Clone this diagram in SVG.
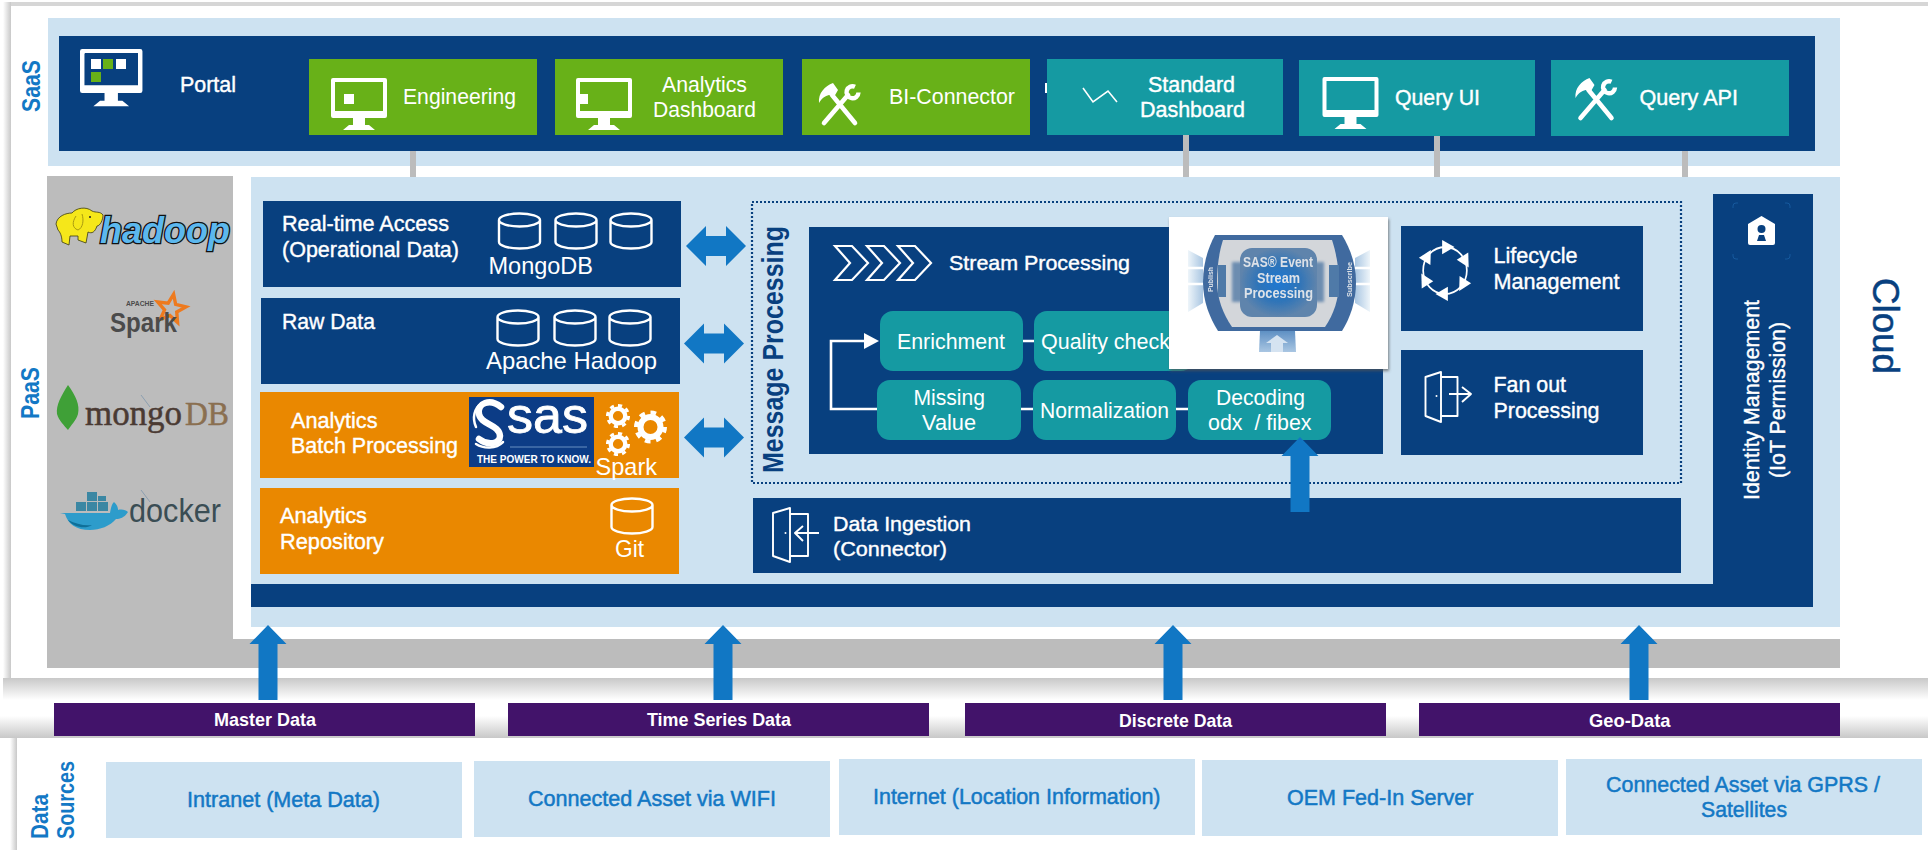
<svg xmlns="http://www.w3.org/2000/svg" width="1928" height="850" viewBox="0 0 1928 850">
<style>
text{font-family:"Liberation Sans",Arial,sans-serif;font-size:22px}
.w{fill:#fff}
.wb{fill:#fff;stroke:#fff;stroke-width:.4px}
.lb{fill:#cde2f1}
.nv{fill:#08407f}
.gr{fill:#68b118}
.tl{fill:#159aa2}
.or{fill:#ea8800}
.pu{fill:#42136a}
.gy{fill:#bcbcbc}
.ab{fill:#1177c4}
.blt{fill:#1378c5;font-weight:700}
.src{fill:#1378c5;font-size:21.500px;stroke:#1378c5;stroke-width:.5px}
.dat{fill:#fff;font-size:19px;font-weight:700}
.big{font-size:24px;fill:#fff}
.ln{fill:none;stroke:#fff;stroke-width:2.6px}
.ic{fill:none;stroke:#fff;stroke-width:1.9px;stroke-linejoin:round}
.im{fill:#dde2e8;font-weight:700;font-size:14.500px}
</style>
<defs>
<linearGradient id="sdD" x1="0" y1="0" x2="0" y2="1"><stop offset="0" stop-color="#c8c8c8"/><stop offset="1" stop-color="#fff"/></linearGradient>
<linearGradient id="sdU" x1="0" y1="1" x2="0" y2="0"><stop offset="0" stop-color="#c8c8c8"/><stop offset="1" stop-color="#fff"/></linearGradient>
<linearGradient id="sdR" x1="1" y1="0" x2="0" y2="0"><stop offset="0" stop-color="#c8c8c8"/><stop offset="1" stop-color="#fff"/></linearGradient>
<radialGradient id="core"><stop offset="0" stop-color="#1f78d2"/><stop offset=".55" stop-color="#2f74b8"/><stop offset="1" stop-color="#5f84ac"/></radialGradient>
<linearGradient id="fanL" x1="1" y1="0" x2="0" y2="0"><stop offset="0" stop-color="#a9c6e2"/><stop offset="1" stop-color="#eef5fa"/></linearGradient>
<linearGradient id="fanR" x1="0" y1="0" x2="1" y2="0"><stop offset="0" stop-color="#a9c6e2"/><stop offset="1" stop-color="#eef5fa"/></linearGradient>
<linearGradient id="fanB" x1="0" y1="1" x2="0" y2="0"><stop offset="0" stop-color="#a9c6e2"/><stop offset="1" stop-color="#5f90c4"/></linearGradient>
<filter id="cardS" x="-10%" y="-10%" width="120%" height="120%"><feDropShadow dx="1" dy="2" stdDeviation="1.5" flood-color="#555" flood-opacity=".7"/></filter>
<filter id="soft" x="-5%" y="-5%" width="110%" height="110%"><feGaussianBlur stdDeviation=".55"/></filter>
<filter id="softer" x="-10%" y="-10%" width="120%" height="120%"><feGaussianBlur stdDeviation="1.6"/></filter>
<path id="monitor" fill="#fff" fill-rule="evenodd" d="M2 0H54Q56 0 56 2V38Q56 40 54 40H2Q0 40 0 38V2Q0 0 2 0ZM4 4V33H52V4ZM22 40H34V47H38L44 52H12L18 47H22Z"/>
<g id="tools">
<path d="M13 12L36 40M29 12L5 40" fill="none" stroke="#fff" stroke-width="4.6" stroke-linecap="round"/>
<path d="M0 20C-1 10 6 3 14 0L19 7L15 14L10 12C6 13 3 15 0 20Z" fill="#fff"/>
<path d="M36 3.800A6 6 0 1 0 39.500 9.500" fill="none" stroke="#fff" stroke-width="4.400"/>
</g>
<path id="cyl" fill="none" stroke="#fff" stroke-width="2.400" d="M1.500 8A20.500 6.500 0 0 1 42.500 8V30A20.500 6.500 0 0 1 1.500 30ZM1.500 8A20.500 6.500 0 0 0 42.500 8"/>
<g id="gear"><circle r="10" fill="none" stroke="#fff" stroke-width="6"/><circle r="14.500" fill="none" stroke="#fff" stroke-width="4" pathLength="80" stroke-dasharray="5 5"/></g>
<polygon id="dbl" class="ab" points="-30,0 -10,-20 -10,-10 10,-10 10,-20 30,0 10,20 10,10 -10,10 -10,20"/>
<polygon id="up" class="ab" points="0,0 18.500,19 9.500,19 9.500,75 -9.500,75 -9.500,19 -18.500,19"/>
<polygon id="tri" fill="#fff" points="10,-23 -3,-30 -3,-16"/>
<polygon id="chev" points="0,0 17,0 33,17 17,34 0,34 15,17" fill="none" stroke="#fff" stroke-width="2.2"/>
</defs>

<g id="page">
<rect x="0" y="0" width="1928" height="850" fill="#fff"/>
<rect x="3" y="2" width="1925" height="4" fill="#d6d6d6"/>
<rect x="3" y="2" width="8" height="676" fill="url(#sdR)"/>
<rect x="3" y="678" width="1925" height="22" fill="url(#sdD)"/>
<rect x="0" y="716" width="1928" height="22" fill="url(#sdU)"/>
<rect x="10" y="738" width="7" height="112" fill="url(#sdR)"/>
</g>

<g id="saas-layer">
<rect class="lb" x="48" y="18" width="1792" height="148"/>
<text class="blt" transform="translate(39.500,112) rotate(-90)" style="font-size:25px" textLength="52" lengthAdjust="spacingAndGlyphs">SaaS</text>
</g>
<g id="portal">
<rect class="nv" x="59" y="36" width="1756" height="115"/>
<use href="#monitor" transform="translate(80,49) scale(1.115,1.1)"/>
<rect class="nv" x="85" y="53" width="53" height="32"/>
<rect fill="#fff" x="91" y="59" width="10" height="10"/><rect class="gr" x="103" y="59" width="10" height="10"/><rect fill="#fff" x="116" y="59" width="10" height="10"/><rect class="gr" x="91" y="72" width="10" height="10"/>
<text class="wb" x="180" y="92" textLength="56" lengthAdjust="spacingAndGlyphs">Portal</text>
</g>
<g id="engineering">
<rect class="gr" x="309" y="59" width="228" height="76"/>
<use href="#monitor" transform="translate(331,78)"/>
<rect fill="#fff" x="344" y="94" width="10" height="10"/>
<text class="w" x="403" y="104" textLength="113" lengthAdjust="spacingAndGlyphs">Engineering</text>
</g>
<g id="analytics-dashboard">
<rect class="gr" x="555" y="59" width="228" height="76"/>
<use href="#monitor" transform="translate(576,78)"/>
<rect fill="#fff" x="580" y="94" width="8" height="10"/>
<text class="w" x="662" y="92" textLength="85" lengthAdjust="spacingAndGlyphs">Analytics</text>
<text class="w" x="653" y="117" textLength="103" lengthAdjust="spacingAndGlyphs">Dashboard</text>
</g>
<g id="bi-connector">
<rect class="gr" x="802" y="59" width="228" height="76"/>
<use href="#tools" transform="translate(819,83)"/>
<text class="w" x="889" y="104" textLength="126" lengthAdjust="spacingAndGlyphs">BI-Connector</text>
</g>
<g id="standard-dashboard">
<rect x="1045" y="83" width="2" height="10" fill="#fff"/>
<rect class="tl" x="1047" y="59" width="236" height="76"/>
<polyline points="1083,88 1093,102 1108,91 1117,102" fill="none" stroke="#fff" stroke-width="1.6"/>
<text class="wb" x="1148" y="92" textLength="87" lengthAdjust="spacingAndGlyphs">Standard</text>
<text class="wb" x="1140" y="117" textLength="105" lengthAdjust="spacingAndGlyphs">Dashboard</text>
</g>
<g id="query-ui">
<rect class="tl" x="1299" y="60" width="236" height="76"/>
<use href="#monitor" transform="translate(1322.500,77)"/>
<text class="wb" x="1395" y="105" textLength="85" lengthAdjust="spacingAndGlyphs">Query UI</text>
</g>
<g id="query-api">
<rect class="tl" x="1551" y="60" width="238" height="76"/>
<use href="#tools" transform="translate(1575.500,78)"/>
<text class="wb" x="1639.500" y="105" textLength="98.500" lengthAdjust="spacingAndGlyphs">Query API</text>
</g>

<g id="paas-layer">
<rect class="gy" x="47" y="176" width="186" height="492"/>
<rect class="gy" x="233" y="639" width="1607" height="29"/>
<rect class="lb" x="251" y="177" width="1589" height="450"/>
<rect class="nv" x="251" y="584" width="1562" height="23"/>
<text class="blt" transform="translate(39,419) rotate(-90)" style="font-size:25px" textLength="52" lengthAdjust="spacingAndGlyphs">PaaS</text>
<text transform="translate(1873,278) rotate(90)" style="font-size:37px;fill:#08407f;stroke:#08407f;stroke-width:.5px" textLength="96" lengthAdjust="spacingAndGlyphs">Cloud</text>
</g>

<g id="logo-hadoop">
<path d="M56 224C57 216 66 213 72 213C76 208 86 206 92 211C96 213 100 211 103 215C103 220 100 226 97 226C95 232 92 234 88 232L86 243L78 240L78 236L70 236L69 245L62 242C62 236 60 232 58 230Z" fill="#f5e71a" stroke="#3a3a10" stroke-width=".8"/>
<path d="M76 216C72 222 72 228 78 230C83 228 84 220 82 214" fill="none" stroke="#a89a10" stroke-width="1"/>
<circle cx="90" cy="217" r="1" fill="#222"/>
<text x="100" y="243" style="font-size:36px;font-weight:700;font-style:italic;fill:#5cb8ee;stroke:#111;stroke-width:2.600px;paint-order:stroke" textLength="130" lengthAdjust="spacingAndGlyphs">hadoop</text>
</g>
<g id="logo-spark">
<polygon transform="translate(171,309) rotate(10)" fill="none" stroke="#ee7a1e" stroke-width="3.4" points="0,-15 3.800,-5.300 14.300,-4.600 6.200,2 8.800,12.100 0,6.500 -8.800,12.100 -6.200,2 -14.300,-4.600 -3.800,-5.300"/>
<text x="126" y="306" style="font-size:7px;fill:#4b4b4b;font-weight:700" textLength="28" lengthAdjust="spacingAndGlyphs">APACHE</text>
<text x="110" y="332" style="font-size:27px;fill:#4b4b4b;font-weight:700" textLength="67" lengthAdjust="spacingAndGlyphs">Spark</text>
</g>
<g id="logo-mongodb">
<path d="M68 385C76 396 80 405 78 414C76 421 71 425 68 430C64 425 59 421 57 414C56 405 61 396 68 385Z" fill="#3fa037"/>
<line x1="141" y1="395" x2="150" y2="407" stroke="#7f97ad" stroke-width=".8"/>
<text x="85" y="425" style="font-family:'Liberation Serif',serif;font-size:35px;fill:#4a3a33;stroke:#4a3a33;stroke-width:.5px" textLength="97" lengthAdjust="spacingAndGlyphs">mongo</text>
<text x="185" y="425" style="font-family:'Liberation Serif',serif;font-size:33px;fill:#8a6f50;stroke:#8a6f50;stroke-width:.5px" textLength="44" lengthAdjust="spacingAndGlyphs">DB</text>
</g>
<g id="logo-docker">
<path d="M60 513H110C111 507 112 504 114 502C117 505 118 507 118 510C122 509 126 510 128 512C124 518 120 519 116 519C110 526 100 530 90 530C76 530 68 524 65 514Z" fill="#2d9ccb"/>
<path d="M68 520C76 524 84 526 92 525C86 529 74 528 68 520Z" fill="#0f6f98"/>
<rect x="76" y="502" width="10" height="9" fill="#3b87a3"/><rect x="87" y="502" width="10" height="9" fill="#3b87a3"/><rect x="98" y="502" width="10" height="9" fill="#3b87a3"/><rect x="87" y="492" width="10" height="9" fill="#3b87a3"/><rect x="98" y="496" width="8" height="5" fill="#3b87a3"/>
<line x1="141" y1="490" x2="150" y2="502" stroke="#7f97ad" stroke-width=".8"/>
<text x="129" y="522" style="font-size:34px;fill:#3a4d54" textLength="92" lengthAdjust="spacingAndGlyphs">docker</text>
</g>

<g id="realtime-access">
<rect class="nv" x="263" y="201" width="418" height="86"/>
<text class="wb" x="282" y="231" textLength="167" lengthAdjust="spacingAndGlyphs">Real-time Access</text>
<text class="wb" x="282" y="257" textLength="177" lengthAdjust="spacingAndGlyphs">(Operational Data)</text>
<use href="#cyl" transform="translate(497.500,212)"/><use href="#cyl" transform="translate(554,212)"/><use href="#cyl" transform="translate(609,212)"/>
<text class="big" x="488.500" y="274" textLength="104.500" lengthAdjust="spacingAndGlyphs">MongoDB</text>
</g>
<g id="raw-data">
<rect class="nv" x="261" y="298" width="419" height="86"/>
<text class="wb" x="282" y="329" textLength="93" lengthAdjust="spacingAndGlyphs">Raw Data</text>
<use href="#cyl" transform="translate(496,309)"/><use href="#cyl" transform="translate(553,309)"/><use href="#cyl" transform="translate(608,309)"/>
<text class="big" x="486" y="369" textLength="171" lengthAdjust="spacingAndGlyphs">Apache Hadoop</text>
</g>
<g id="analytics-batch">
<rect class="or" x="260" y="392" width="419" height="86"/>
<text class="wb" x="291" y="428" textLength="86.500" lengthAdjust="spacingAndGlyphs">Analytics</text>
<text class="wb" x="291" y="453" textLength="167" lengthAdjust="spacingAndGlyphs">Batch Processing</text>
<rect x="469" y="397" width="125" height="70" fill="#0c3c86"/>
<path d="M501 407C490 398 477 403 479 414C481 425 499 424 500 436C500 444 488 446 479 439" fill="none" stroke="#fff" stroke-width="6.500" stroke-linecap="round"/>
<path d="M476 427C472 418 474 408 482 403M503 442C496 449 484 449 476 444" fill="none" stroke="#fff" stroke-width="2.500" stroke-linecap="round"/>
<text x="507" y="433" style="font-size:50px;fill:#fff;stroke:#fff;stroke-width:.8px" textLength="81" lengthAdjust="spacingAndGlyphs">sas</text>
<line x1="510" y1="447" x2="587" y2="447" stroke="#7fa4d0" stroke-width=".8"/>
<text x="477" y="463" style="font-size:11px;fill:#fff;font-weight:700" textLength="114" lengthAdjust="spacingAndGlyphs">THE POWER TO KNOW.</text>
<use href="#gear" transform="translate(650.500,427)"/>
<use href="#gear" transform="translate(618,416) scale(.73)"/>
<use href="#gear" transform="translate(618,444) scale(.73)"/>
<text class="big" x="595.500" y="475" textLength="61.500" lengthAdjust="spacingAndGlyphs">Spark</text>
</g>
<g id="analytics-repository">
<rect class="or" x="260" y="488" width="419" height="86"/>
<text class="wb" x="280" y="523" textLength="87" lengthAdjust="spacingAndGlyphs">Analytics</text>
<text class="wb" x="280" y="549" textLength="104" lengthAdjust="spacingAndGlyphs">Repository</text>
<use href="#cyl" transform="translate(610,497)"/>
<text class="big" x="615" y="557" textLength="29" lengthAdjust="spacingAndGlyphs">Git</text>
</g>

<g id="message-processing">
<rect x="752" y="202" width="929" height="281" fill="none" stroke="#08407f" stroke-width="2.200" stroke-dasharray="2 2"/>
<text transform="translate(783,473) rotate(-90)" style="font-size:29px;font-weight:700;fill:#08407f" textLength="247" lengthAdjust="spacingAndGlyphs">Message Processing</text>
</g>
<g id="stream-processing">
<rect class="nv" x="809" y="227" width="574" height="227"/>
<use href="#chev" transform="translate(835,246)"/><use href="#chev" transform="translate(867,246)"/><use href="#chev" transform="translate(898,246)"/>
<text class="wb" x="949" y="270" style="font-size:21px" textLength="181" lengthAdjust="spacingAndGlyphs">Stream Processing</text>
</g>

<g id="connectors">
<g class="gy"><rect x="410" y="151" width="6" height="26"/><rect x="1183" y="135" width="6" height="42"/><rect x="1434" y="136" width="6" height="41"/><rect x="1682" y="151" width="6" height="26"/></g>
<path class="ln" d="M1023 341H1034M1021 409H1033M1176 409H1188M877 409H831V341H866"/>
<polygon points="864,333 879,341 864,349" fill="#fff"/>
<use href="#dbl" x="716" y="246"/><use href="#dbl" x="714" y="343.500"/><use href="#dbl" x="714" y="437.500"/>
</g>

<g id="enrichment"><rect class="tl" x="880" y="311" width="143" height="60" rx="13"/><text class="w" x="897" y="349" textLength="108" lengthAdjust="spacingAndGlyphs">Enrichment</text></g>
<g id="quality-check"><rect class="tl" x="1034" y="311" width="160" height="60" rx="13"/><text class="w" x="1041" y="349" textLength="129" lengthAdjust="spacingAndGlyphs">Quality check</text></g>
<g id="missing-value"><rect class="tl" x="877" y="380" width="144" height="60" rx="13"/><text class="w" x="913.500" y="405" textLength="71.500" lengthAdjust="spacingAndGlyphs">Missing</text><text class="w" x="922" y="430" textLength="54" lengthAdjust="spacingAndGlyphs">Value</text></g>
<g id="normalization"><rect class="tl" x="1033" y="380" width="143" height="60" rx="13"/><text class="w" x="1040" y="418" textLength="129" lengthAdjust="spacingAndGlyphs">Normalization</text></g>
<g id="decoding"><rect class="tl" x="1188" y="380" width="143" height="60" rx="13"/><text class="w" x="1216" y="405" textLength="89" lengthAdjust="spacingAndGlyphs">Decoding</text><text class="w" x="1208" y="430" style="white-space:pre" textLength="103.500" lengthAdjust="spacingAndGlyphs">odx  / fibex</text></g>

<g id="sas-esp">
<rect x="1169" y="217" width="219" height="152" fill="#fff" filter="url(#cardS)"/>
<g filter="url(#soft)">
<polygon points="1203,258 1188,250 1188,312 1203,303" fill="url(#fanL)"/>
<polygon points="1355,258 1370,250 1370,312 1355,303" fill="url(#fanR)"/>
<path d="M1188 268H1203M1188 284H1203M1355 268H1370M1355 284H1370" stroke="#fff" stroke-width="2.500"/>
<polygon points="1260,331 1295,331 1296,352 1259,352" fill="url(#fanB)"/>
<polygon points="1277,335 1288,343 1283,343 1283,352 1271,352 1271,343 1266,343" fill="#d5e3f1"/>
<path d="M1215 235H1342C1350 248 1356 264 1356 282C1356 302 1350 318 1342 331H1218C1210 318 1203 302 1203 282C1203 264 1208 248 1215 235Z" fill="#3f6a9f"/>
<path d="M1223 240H1332C1336 252 1339 268 1339 282C1339 298 1334 314 1325 327H1232C1223 314 1217 298 1217 282C1217 268 1219 252 1223 240Z" fill="#d3d6da"/>
<rect x="1218" y="265" width="8" height="32" fill="#4f7aa8"/><rect x="1329" y="265" width="10" height="32" fill="#4f7aa8"/>
<rect x="1232" y="262" width="92" height="40" fill="#6d8db0" filter="url(#softer)"/>
<rect x="1240" y="248" width="77" height="69" rx="12" fill="url(#core)" filter="url(#soft)"/>
<text class="im" x="1243" y="267" textLength="70" lengthAdjust="spacingAndGlyphs">SAS® Event</text>
<text class="im" x="1257" y="283" textLength="43" lengthAdjust="spacingAndGlyphs">Stream</text>
<text class="im" x="1244" y="298" textLength="69" lengthAdjust="spacingAndGlyphs">Processing</text>
<text class="im" transform="translate(1213,292) rotate(-90)" style="font-size:8px" textLength="25" lengthAdjust="spacingAndGlyphs">Publish</text>
<text class="im" transform="translate(1352,297) rotate(-90)" style="font-size:8px" textLength="35" lengthAdjust="spacingAndGlyphs">Subscribe</text>
</g>
</g>

<g id="lifecycle">
<rect class="nv" x="1401" y="226" width="242" height="105"/>
<g transform="translate(1445,270.500) scale(.95,1.02)">
<circle r="23" fill="none" stroke="#fff" stroke-width="1.800"/>
<use href="#tri"/><use href="#tri" transform="rotate(60)"/><use href="#tri" transform="rotate(120)"/><use href="#tri" transform="rotate(180)"/><use href="#tri" transform="rotate(240)"/><use href="#tri" transform="rotate(300)"/>
</g>
<text class="wb" x="1493.500" y="263" textLength="84" lengthAdjust="spacingAndGlyphs">Lifecycle</text>
<text class="wb" x="1493.500" y="289" textLength="126" lengthAdjust="spacingAndGlyphs">Management</text>
</g>
<g id="fan-out">
<rect class="nv" x="1401" y="350" width="242" height="105"/>
<path class="ic" d="M1425.500 377L1441 372V422L1425.500 416ZM1441 377H1457.500V416H1441M1449 394H1471M1462 387L1471 394L1462 402"/>
<circle cx="1436.500" cy="396" r="1" fill="#fff"/>
<text class="wb" x="1493.500" y="392" textLength="72.500" lengthAdjust="spacingAndGlyphs">Fan out</text>
<text class="wb" x="1493.500" y="418" textLength="106" lengthAdjust="spacingAndGlyphs">Processing</text>
</g>
<g id="data-ingestion">
<rect class="nv" x="753" y="498" width="928" height="75"/>
<path class="ic" d="M773 513L790 508V562L773 556ZM790 514H808V556H790M819 533H795M803 526L795 533L803 541"/>
<circle cx="785.500" cy="533" r="1" fill="#fff"/>
<text class="wb" x="833" y="531" style="font-size:21px" textLength="138" lengthAdjust="spacingAndGlyphs">Data Ingestion</text>
<text class="wb" x="833" y="556" style="font-size:21px" textLength="114" lengthAdjust="spacingAndGlyphs">(Connector)</text>
</g>
<g id="identity-management">
<rect class="nv" x="1713" y="194" width="100" height="413"/>
<path d="M1733 208V206Q1733 203 1736 203H1738M1785 203H1787Q1790 203 1790 206V208M1733 254V256Q1733 259 1736 259H1738M1785 259H1787Q1790 259 1790 256V254" fill="none" stroke="#1a5fa5" stroke-width=".8"/>
<path d="M1761.500 216L1775 224V243Q1775 245 1773 245H1750Q1748 245 1748 243V224Z" fill="#fff"/>
<circle cx="1761.500" cy="229" r="4" class="nv"/>
<polygon class="nv" points="1759,235 1764,235 1766,241 1757,241"/>
<text class="wb" transform="translate(1758.500,500) rotate(-90)" textLength="200" lengthAdjust="spacingAndGlyphs">Identity Management</text>
<text class="wb" transform="translate(1785,478) rotate(-90)" textLength="156" lengthAdjust="spacingAndGlyphs">(IoT Permission)</text>
</g>

<g id="flows">
<use href="#up" x="1300" y="437"/>
<use href="#up" x="268" y="625"/><use href="#up" x="723" y="625"/><use href="#up" x="1173" y="625"/><use href="#up" x="1639" y="625"/>
</g>

<g id="master-data"><rect class="pu" x="54" y="703" width="421" height="33"/><text class="dat" x="214" y="726" textLength="102" lengthAdjust="spacingAndGlyphs">Master Data</text></g>
<g id="time-series-data"><rect class="pu" x="508" y="703" width="421" height="33"/><text class="dat" x="647" y="726" textLength="144" lengthAdjust="spacingAndGlyphs">Time Series Data</text></g>
<g id="discrete-data"><rect class="pu" x="965" y="703" width="421" height="33"/><text class="dat" x="1119" y="727" textLength="113" lengthAdjust="spacingAndGlyphs">Discrete Data</text></g>
<g id="geo-data"><rect class="pu" x="1419" y="703" width="421" height="33"/><text class="dat" x="1589" y="727" textLength="81.500" lengthAdjust="spacingAndGlyphs">Geo-Data</text></g>

<g id="data-sources-label">
<text class="blt" transform="translate(48,839) rotate(-90)" style="font-size:23px" textLength="45" lengthAdjust="spacingAndGlyphs">Data</text>
<text class="blt" transform="translate(73.500,839) rotate(-90)" style="font-size:23px" textLength="78" lengthAdjust="spacingAndGlyphs">Sources</text>
</g>
<g id="intranet"><rect class="lb" x="106" y="762" width="356" height="76"/><text class="src" x="187" y="807" textLength="193" lengthAdjust="spacingAndGlyphs">Intranet (Meta Data)</text></g>
<g id="wifi"><rect class="lb" x="474" y="761" width="356" height="76"/><text class="src" x="528" y="806" textLength="248" lengthAdjust="spacingAndGlyphs">Connected Asset via WIFI</text></g>
<g id="internet"><rect class="lb" x="839" y="759" width="356" height="76"/><text class="src" x="873" y="804" textLength="287.500" lengthAdjust="spacingAndGlyphs">Internet (Location Information)</text></g>
<g id="oem"><rect class="lb" x="1202" y="760" width="356" height="76"/><text class="src" x="1287" y="805" textLength="186.500" lengthAdjust="spacingAndGlyphs">OEM Fed-In Server</text></g>
<g id="gprs"><rect class="lb" x="1566" y="759" width="356" height="76"/><text class="src" x="1606" y="792" textLength="274" lengthAdjust="spacingAndGlyphs">Connected Asset via GPRS /</text><text class="src" x="1701" y="817" textLength="86" lengthAdjust="spacingAndGlyphs">Satellites</text></g>
</svg>
